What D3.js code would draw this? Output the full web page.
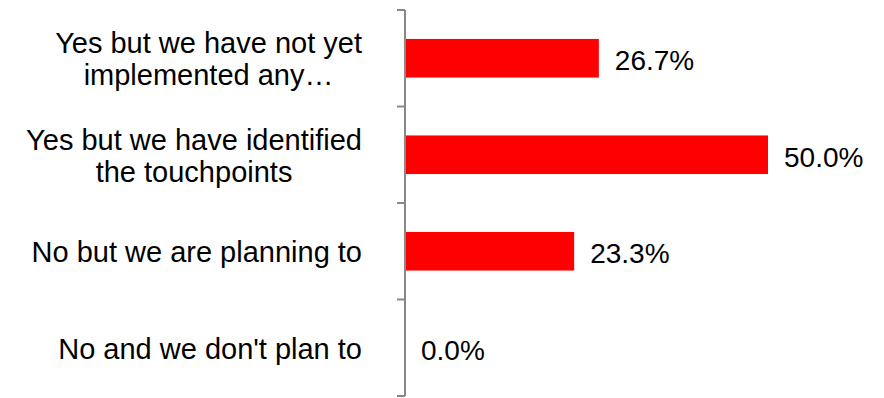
<!DOCTYPE html>
<html>
<head>
<meta charset="utf-8">
<script src="https://cdn.jsdelivr.net/npm/d3@7"></script>
<style>
  body { margin: 0; background: #fff; }
  svg text { font-family: "Liberation Sans", Arial, sans-serif; fill: #000; }
</style>
</head>
<body>
<svg id="chart" width="884" height="398"></svg>
<script>
// answers, top to bottom
var categories = [
  ["Yes but we have not yet", "implemented any\u2026"],
  ["Yes but we have identified", "the touchpoints"],
  ["No but we are planning to"],
  ["No and we don't plan to"]
];
var values = [26.7, 50.0, 23.3, 0.0];

var svg = d3.select("#chart");
var axisX = 405, plotTop = 10, plotBottom = 396;

var y = d3.scaleBand()
  .domain(d3.range(categories.length))
  .range([plotTop, plotBottom])
  .paddingInner(0.6)
  .paddingOuter(0.3);

var x = d3.scaleLinear().domain([0, 50]).range([axisX, 768]);

// bars
svg.selectAll(".bar")
  .data(values)
  .enter().append("rect")
  .attr("class", "bar")
  .attr("x", x(0))
  .attr("y", function(d, i){ return y(i); })
  .attr("width", function(d){ return x(d) - x(0); })
  .attr("height", y.bandwidth())
  .attr("fill", "#ff0000");

// axis line + ticks at category boundaries
var step = (plotBottom - plotTop) / categories.length;
var g = svg.append("g");
g.append("line")
  .attr("x1", axisX).attr("x2", axisX)
  .attr("y1", plotTop).attr("y2", plotBottom)
  .attr("stroke", "#888").attr("stroke-width", 2);
g.selectAll(".tick")
  .data(d3.range(categories.length + 1))
  .enter().append("line")
  .attr("class", "tick")
  .attr("x1", axisX - 8).attr("x2", axisX)
  .attr("y1", function(i){ return plotTop + i * step; })
  .attr("y2", function(i){ return plotTop + i * step; })
  .attr("stroke", "#888").attr("stroke-width", 2);

// category labels (block right-aligned, lines centred)
var labelRight = 362, lineH = 32;
categories.forEach(function(lines, i){
  var cy = y(i) + y.bandwidth() / 2;
  var t = svg.append("text")
    .attr("font-size", 29)
    .attr("text-anchor", "middle");
  lines.forEach(function(s){ t.append("tspan").text(s); });
  var w = 0;
  t.selectAll("tspan").each(function(){ w = Math.max(w, this.getComputedTextLength()); });
  var cx = labelRight - w / 2;
  var y0 = cy - (lines.length - 1) * lineH / 2 + 11;
  t.selectAll("tspan")
    .attr("x", cx)
    .attr("y", function(d, k){ return y0 + k * lineH; });
});

// value labels
svg.selectAll(".val")
  .data(values)
  .enter().append("text")
  .attr("class", "val")
  .attr("font-size", 28)
  .attr("x", function(d){ return x(d) + 16; })
  .attr("y", function(d, i){ return y(i) + y.bandwidth() / 2 + 12; })
  .text(function(d){ return d.toFixed(1) + "%"; });
</script>
</body>
</html>
